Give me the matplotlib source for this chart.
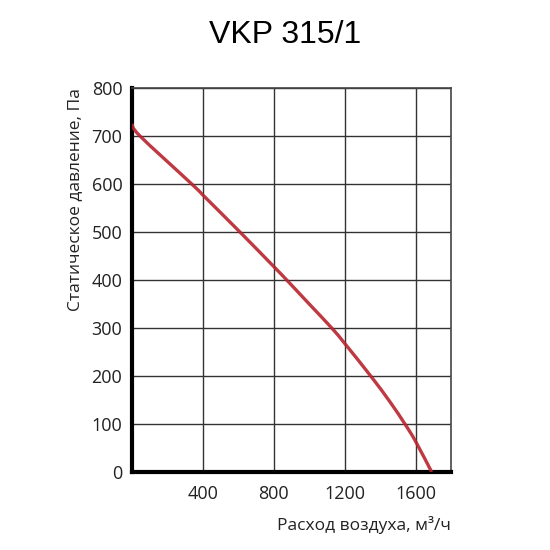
import matplotlib
matplotlib.use("Agg")
import matplotlib.pyplot as plt
from matplotlib.path import Path
from matplotlib.patches import PathPatch
import numpy as np

# Data
flow = [0, 45, 337, 400, 609, 800, 873, 1000, 1127, 1200, 1347, 1456, 1540, 1600, 1691]
pressure = [725, 700, 600, 577, 500, 428, 400, 350, 300, 268, 200, 146, 100, 64, 0]

x_ticks = [400, 800, 1200, 1600]
y_ticks = [0, 100, 200, 300, 400, 500, 600, 700, 800]
title = "VKP 315/1"
xlabel = "Расход воздуха, м³/ч"
ylabel = "Статическое давление, Па"

plt.rcParams['font.family'] = ['Open Sans', 'DejaVu Sans']

fig = plt.figure(figsize=(5.5, 5.5), dpi=100)
ax = fig.add_axes([0.24, 0.1418, 0.58, 0.6982])

ax.set_xlim(0, 1800)
ax.set_ylim(0, 800)
ax.set_xticks(x_ticks)
ax.set_yticks(y_ticks)
ax.grid(True, color='#333333', linewidth=1.0)
ax.set_axisbelow(True)
ax.tick_params(length=0, labelsize=13, colors='#222222')
ax.tick_params(axis='x', pad=9)
ax.tick_params(axis='y', pad=7)

for s in ['top', 'right']:
    ax.spines[s].set_linewidth(1.2)
    ax.spines[s].set_color('#444444')
for s in ['left', 'bottom']:
    ax.spines[s].set_linewidth(3.0)
    ax.spines[s].set_color('black')

# smooth rendering through the read points (Catmull-Rom as cubic Bezier segments)
pts = np.column_stack([flow, pressure]).astype(float)
verts = [tuple(pts[0])]
codes = [Path.MOVETO]
n = len(pts)
for i in range(n - 1):
    p0 = pts[i - 1] if i > 0 else pts[i]
    p1 = pts[i]
    p2 = pts[i + 1]
    p3 = pts[i + 2] if i + 2 < n else pts[i + 1]
    c1 = p1 + (p2 - p0) / 6.0
    c2 = p2 - (p3 - p1) / 6.0
    verts += [tuple(c1), tuple(c2), tuple(p2)]
    codes += [Path.CURVE4, Path.CURVE4, Path.CURVE4]
curve = PathPatch(Path(verts, codes), facecolor='none', edgecolor='#b8232e',
                  linewidth=2.4, alpha=0.9, zorder=3, capstyle='butt')
ax.add_patch(curve)

ax.set_xlabel(xlabel, fontsize=12.5, color='#222222', loc='right', labelpad=10)
ax.set_ylabel(ylabel, fontsize=12.5, color='#222222', loc='top', labelpad=6)

fig.text(0.518, 0.936, title, fontsize=23, family=['Liberation Sans', 'DejaVu Sans'],
         ha='center', va='center', color='black')

fig.savefig('out.png', dpi=100, facecolor='white')
